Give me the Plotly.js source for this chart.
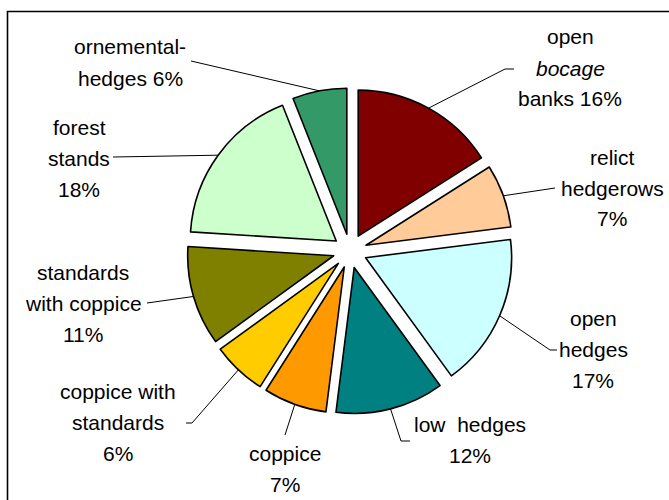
<!DOCTYPE html>
<html>
<head>
<meta charset="utf-8">
<script src="https://cdn.plot.ly/plotly-3.0.1.min.js"></script>
<style>html,body{margin:0;padding:0;background:#fff;}#chart{width:669px;height:500px;}</style>
</head>
<body>
<div id="chart"></div>
<script>
// ---- data ----
var categories = ["open bocage banks", "relict hedgerows", "open hedges", "low hedges", "coppice",
                  "coppice with standards", "standards with coppice", "forest stands", "ornemental-hedges"];
var values = [16, 7, 17, 12, 7, 6, 11, 18, 6];
var colors = ["#800000", "#FFCC99", "#CCFFFF", "#008080", "#FF9900", "#FFCC00", "#808000", "#CCFFCC", "#339966"];
var labelLines = [
  ["open", "<i>bocage</i>", "banks {p}"],
  ["relict", "hedgerows", "{p}"],
  ["open", "hedges", "{p}"],
  ["low  hedges", "{p}"],
  ["coppice", "{p}"],
  ["coppice with", "standards", "{p}"],
  ["standards", "with coppice", "{p}"],
  ["forest", "stands", "{p}"],
  ["ornemental-", "hedges {p}"]
];

// ---- layout (pixel positions) ----
var W = 669, H = 500;
var PULL = 0.1164;
var domX = [187 / W, 513 / W], domY = [1 - 414 / H, 1 - 88 / H];
// label block: [center x, first line y]
var labelPos = [[570, 37], [612, 157], [593, 318], [470, 424], [285, 453], [118, 391], [83, 272], [79, 127], [130, 47]];
var LINE_GAP = 31;
// leader line end points: list of [x,y] after the slice point
var leaderEnds = [
  [[505, 69], [514, 69]],
  [[555, 188]],
  [[550, 350], [557, 350]],
  [[401, 441], [410, 441]],
  [[285, 435]],
  [[192, 423], [186, 423]],
  [[147, 303]],
  [[113, 157]],
  [[191, 61]]
];

function px(x) { return x / W; }
function py(y) { return 1 - y / H; }

var total = values.reduce(function (a, b) { return a + b; }, 0);
var cx = (domX[0] + domX[1]) / 2 * W;
var cy = (1 - (domY[0] + domY[1]) / 2) * H;
var box = Math.min((domX[1] - domX[0]) * W, (domY[1] - domY[0]) * H);
var R = box / (2 * (1 + PULL));

var annotations = [];
var shapes = [];
var cum = 0;
values.forEach(function (v, i) {
  var mid = (cum + v / 2) / total * 2 * Math.PI;
  cum += v;
  var sx = cx + Math.sin(mid) * R * (1 + PULL);
  var sy = cy - Math.cos(mid) * R * (1 + PULL);
  var path = "M" + px(sx) + "," + py(sy);
  leaderEnds[i].forEach(function (p) { path += " L" + px(p[0]) + "," + py(p[1]); });
  shapes.push({ type: "path", xref: "paper", yref: "paper", path: path,
    line: { color: "#000", width: 1 } });
  labelLines[i].forEach(function (t, k) {
    annotations.push({
      xref: "paper", yref: "paper",
      x: px(labelPos[i][0]), y: py(labelPos[i][1] + k * LINE_GAP),
      xanchor: "center", yanchor: "middle", showarrow: false,
      text: t.replace("{p}", v + "%"),
      font: { family: "Liberation Sans, Arial, sans-serif", size: 21, color: "#000" }
    });
  });
});

// chart border
shapes.push({ type: "rect", xref: "paper", yref: "paper",
  x0: px(7.5), x1: px(700), y0: py(520), y1: py(11.5),
  line: { color: "#000", width: 1.6 } });

var trace = {
  type: "pie",
  labels: categories,
  values: values,
  sort: false,
  direction: "clockwise",
  rotation: 0,
  pull: values.map(function () { return PULL; }),
  marker: { colors: colors, line: { color: "#000", width: 1.6 } },
  textinfo: "none",
  hoverinfo: "skip",
  domain: { x: domX, y: domY }
};

Plotly.newPlot("chart", [trace], {
  width: W, height: H,
  margin: { l: 0, r: 0, t: 0, b: 0 },
  showlegend: false,
  paper_bgcolor: "#fff",
  annotations: annotations,
  shapes: shapes
}, { staticPlot: true });
</script>
</body>
</html>
